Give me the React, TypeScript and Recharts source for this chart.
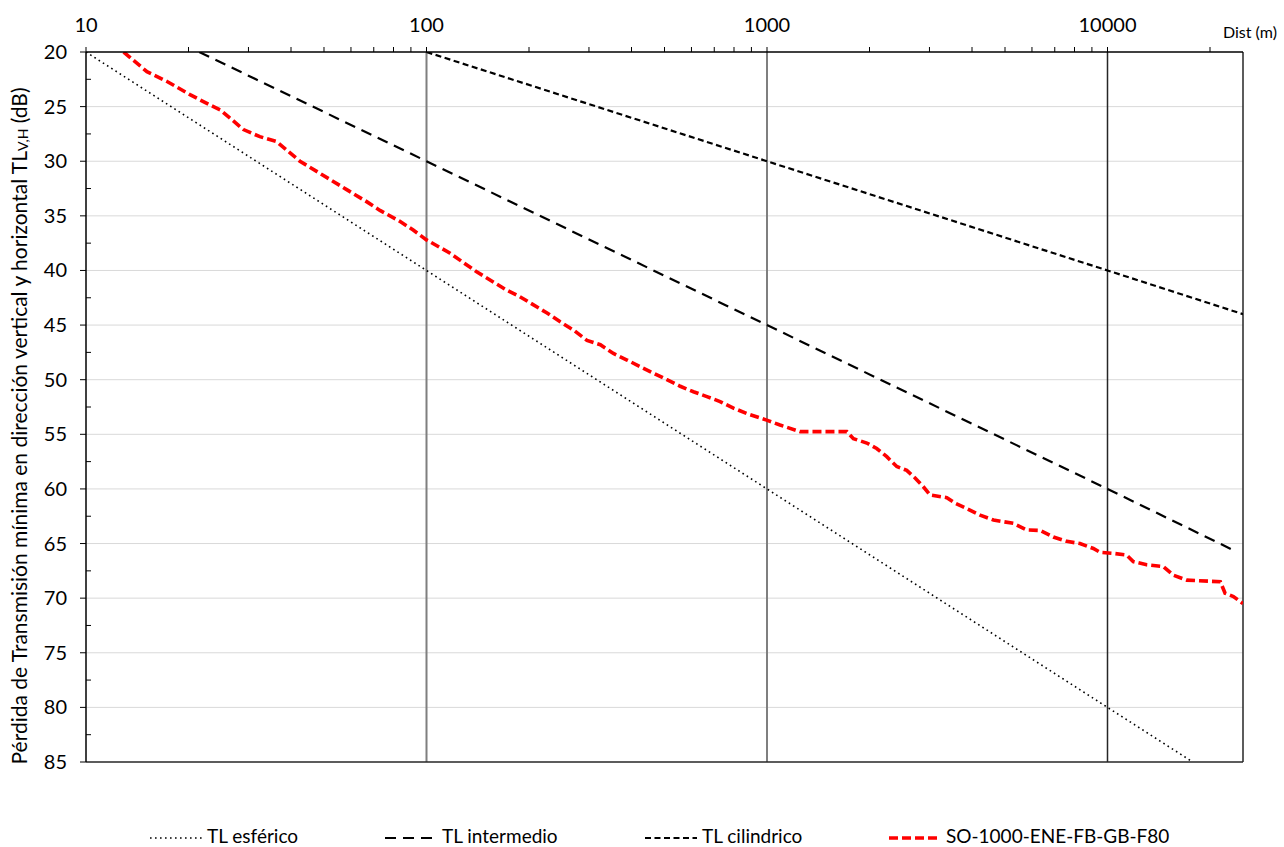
import React from 'react'
import { LineChart, Line, XAxis, YAxis, ReferenceLine } from 'recharts'

// Distancias (m) y pérdidas (dB)
const esfericoDist = [10, 100, 1000, 10000, 17800]
const esfericoTL = [20, 40, 60, 80, 85]

const intermedioDist = [21.5, 100, 1000, 10000, 23400]
const intermedioTL = [20, 30, 45, 60, 65.6]

const cilindricoDist = [100, 1000, 10000, 25000]
const cilindricoTL = [20, 30, 40, 44]

const soDist = [
  12.9, 15.1, 17.3, 20.2, 23.1, 24.8, 29, 32.4, 36.3, 42.5, 48.6, 58.3, 66.7, 73, 83.5, 91.4,
  100, 117, 140, 172, 188, 226, 247, 270, 296, 324, 354, 388, 424, 464, 508, 556, 608, 666,
  728, 797, 872, 998, 1092, 1250, 1715, 1794, 1964, 2100, 2248, 2405, 2573, 2722, 2879, 3012,
  3374, 3568, 3862, 4226, 4624, 5289, 5790, 6336, 6934, 7592, 8302, 9088, 9510, 10400, 11380,
  11900, 13030, 14580, 15610, 17080, 21450, 22150, 23430, 25000,
]
const soTL = [
  20, 21.8, 22.7, 23.9, 24.85, 25.3, 27.1, 27.75, 28.2, 30, 31.1, 32.6, 33.7, 34.5, 35.5, 36.3,
  37.2, 38.4, 40.1, 41.8, 42.4, 43.9, 44.7, 45.45, 46.4, 46.8, 47.6, 48.2, 48.8, 49.4, 50, 50.6,
  51.1, 51.55, 52, 52.6, 53.1, 53.7, 54.15, 54.75, 54.75, 55.4, 55.8, 56.3, 57.05, 57.95, 58.3,
  59, 59.8, 60.55, 60.8, 61.3, 61.8, 62.4, 62.85, 63.15, 63.75, 63.8, 64.4, 64.8, 65, 65.45,
  65.8, 65.9, 66.05, 66.65, 66.95, 67.1, 67.9, 68.35, 68.5, 69.55, 69.85, 70.5,
]

const xTicks = [
  10, 20, 30, 40, 50, 60, 70, 80, 90,
  100, 200, 300, 400, 500, 600, 700, 800, 900,
  1000, 2000, 3000, 4000, 5000, 6000, 7000, 8000, 9000,
  10000, 20000,
]
const xLabels = [10, 100, 1000, 10000]
const yTicks = [
  20, 22.5, 25, 27.5, 30, 32.5, 35, 37.5, 40, 42.5, 45, 47.5, 50, 52.5, 55, 57.5,
  60, 62.5, 65, 67.5, 70, 72.5, 75, 77.5, 80, 82.5, 85,
]
const yGrid = [25, 30, 35, 40, 45, 50, 55, 60, 65, 70, 75, 80]
const decadeLines = [100, 1000]

const seriesNames = ['TL esférico', 'TL intermedio', 'TL cilindrico', 'SO-1000-ENE-FB-GB-F80']

const toPoints = (xs: number[], ys: number[]) => xs.map((x, i) => ({ x, y: ys[i] }))

const FONT = 'Lato, "Open Sans", sans-serif'

const styles = [
  { stroke: '#000', width: 1.6, dash: '1.6 3.4' },
  { stroke: '#000', width: 2.2, dash: '11 7' },
  { stroke: '#000', width: 2.2, dash: '6 3.5' },
  { stroke: '#ff0000', width: 3.6, dash: '9 4' },
]

function XTick(props: any) {
  const { x, y, payload } = props
  const label = xLabels.includes(payload.value)
  return (
    <g>
      <line x1={x} x2={x} y1={y} y2={y - 5} stroke="#000" strokeWidth={1} />
      {label && (
        <text x={x} y={y - 20} textAnchor="middle" fontSize={20} fontFamily={FONT} fill="#000">
          {payload.value}
        </text>
      )}
    </g>
  )
}

function YTick(props: any) {
  const { x, y, payload } = props
  const major = payload.value % 5 === 0
  return (
    <g>
      {major ? (
        <line x1={x - 6} x2={x} y1={y} y2={y} stroke="#000" strokeWidth={1} />
      ) : (
        <line x1={x} x2={x + 5} y1={y} y2={y} stroke="#000" strokeWidth={1} />
      )}
      {major && (
        <text x={x - 19} y={y + 7} textAnchor="end" fontSize={20} fontFamily={FONT} fill="#000">
          {payload.value}
        </text>
      )}
    </g>
  )
}

const series = [
  toPoints(esfericoDist, esfericoTL),
  toPoints(intermedioDist, intermedioTL),
  toPoints(cilindricoDist, cilindricoTL),
  toPoints(soDist, soTL),
]

const legendPos = [150, 385, 645, 889]

export default function App() {
  return (
    <div style={{ position: 'relative', width: 1284, height: 847, background: '#fff', fontFamily: FONT }}>
      <style>{'body{margin:0}'}</style>
      <LineChart width={1284} height={847} margin={{ top: 0, right: 41, bottom: 85, left: 0 }}>
        <XAxis
          xAxisId={0}
          type="number"
          dataKey="x"
          scale="log"
          domain={[10, 25000]}
          allowDataOverflow
          orientation="top"
          height={52}
          ticks={xTicks}
          tick={<XTick />}
          tickLine={false}
          tickSize={0}
          tickMargin={0}
          interval={0}
          axisLine={{ stroke: '#000', strokeWidth: 1.5 }}
        />
        <YAxis
          yAxisId={0}
          type="number"
          dataKey="y"
          domain={[20, 85]}
          reversed
          allowDataOverflow
          width={86}
          ticks={yTicks}
          tick={<YTick />}
          tickLine={false}
          tickSize={0}
          tickMargin={0}
          interval={0}
          axisLine={{ stroke: '#000', strokeWidth: 1.5 }}
        />
        {yGrid.map((v) => (
          <ReferenceLine key={'h' + v} y={v} stroke="#d9d9d9" strokeWidth={1} />
        ))}
        {decadeLines.map((v) => (
          <ReferenceLine key={'v' + v} x={v} stroke="#7f7f7f" strokeWidth={2} />
        ))}
        <ReferenceLine x={10000} stroke="#262626" strokeWidth={1.5} />
        <ReferenceLine x={25000} stroke="#262626" strokeWidth={1.5} />
        <ReferenceLine y={85} stroke="#262626" strokeWidth={1.5} />
        {series.map((d, i) => (
          <Line
            key={seriesNames[i]}
            data={d}
            dataKey="y"
            name={seriesNames[i]}
            type="linear"
            stroke={styles[i].stroke}
            strokeWidth={styles[i].width}
            strokeDasharray={styles[i].dash}
            dot={false}
            activeDot={false}
            isAnimationActive={false}
          />
        ))}
      </LineChart>

      <svg width={1284} height={847} style={{ position: 'absolute', left: 0, top: 0, pointerEvents: 'none' }}>
        <text
          x={18}
          y={426}
          transform="rotate(-90 18 426)"
          textAnchor="middle"
          dominantBaseline="central"
          fontSize={21}
          fontFamily={FONT}
          fill="#000"
        >
          Pérdida de Transmisión mínima en dirección vertical y horizontal TL
          <tspan fontSize={14} dy={4}>V,H</tspan>
          <tspan dy={-4}> (dB)</tspan>
        </text>
        <text x={1223} y={38} fontSize={16} fontFamily={FONT} fill="#000">
          Dist (m)
        </text>
        {seriesNames.map((name, i) => (
          <g key={name}>
            <line
              x1={legendPos[i]}
              x2={legendPos[i] + 52}
              y1={838}
              y2={838}
              stroke={styles[i].stroke}
              strokeWidth={styles[i].width}
              strokeDasharray={styles[i].dash}
            />
            <text x={legendPos[i] + 57} y={843} fontSize={19} fontFamily={FONT} fill="#000">
              {name}
            </text>
          </g>
        ))}
      </svg>
    </div>
  )
}
